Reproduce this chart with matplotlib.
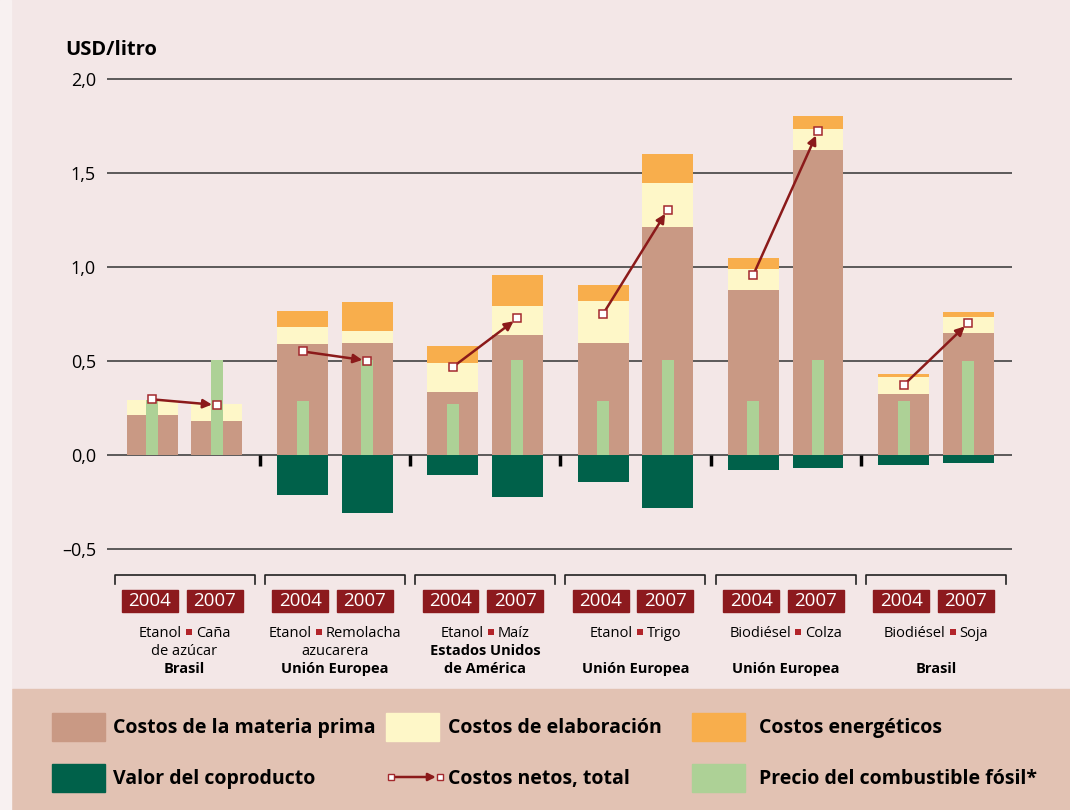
import numpy as np
import matplotlib.pyplot as plt
from matplotlib.patches import Rectangle, FancyArrowPatch
from matplotlib.lines import Line2D

plt.rcParams['font.family'] = ['Open Sans', 'DejaVu Sans']

# --- data (order: group 2004, group 2007, ...) ---
years = ['2004', '2007']
biofuel = ['Etanol', 'Etanol', 'Etanol', 'Etanol', 'Biodiésel', 'Biodiésel']
feedstock = ['Caña', 'Remolacha', 'Maíz', 'Trigo', 'Colza', 'Soja']
feedstock2 = ['de azúcar', 'azucarera', '', '', '', '']
region = ['Brasil', 'Unión Europea', 'Estados Unidos\nde América',
          'Unión Europea', 'Unión Europea', 'Brasil']

materia = [0.213, 0.181, 0.590, 0.596, 0.335, 0.638, 0.596, 1.213, 0.878, 1.622, 0.324, 0.649]
elaboracion = [0.080, 0.090, 0.091, 0.064, 0.154, 0.155, 0.223, 0.234, 0.111, 0.112, 0.091, 0.085]
energia = [0.0, 0.0, 0.085, 0.154, 0.091, 0.164, 0.085, 0.154, 0.059, 0.069, 0.016, 0.027]
coproducto = [0.0, 0.0, -0.213, -0.309, -0.106, -0.223, -0.142, -0.280, -0.078, -0.067, -0.052, -0.041]
fosil = [0.295, 0.505, 0.287, 0.505, 0.271, 0.505, 0.287, 0.505, 0.287, 0.505, 0.287, 0.500]
neto = [0.296, 0.266, 0.551, 0.502, 0.468, 0.727, 0.750, 1.305, 0.959, 1.723, 0.372, 0.702]

yticks = [-0.5, 0.0, 0.5, 1.0, 1.5, 2.0]
ytick_labels = ['–0,5', '0,0', '0,5', '1,0', '1,5', '2,0']

# colours
c_bg = '#f3e7e7'
c_leg = '#e2c2b3'
c_mat = '#c99984'
c_ela = '#fef7c8'
c_ene = '#f8ae4c'
c_cop = '#00614a'
c_fos = '#add196'
c_red = '#8c1a1e'
c_line = '#8b1a1a'

fig = plt.figure(figsize=(10.7, 8.1), dpi=100, facecolor=c_bg)
W, H = 1070, 810
ax = fig.add_axes([107 / W, 1 - 567.8 / H, 905 / W, 498.2 / H])
ax.set_facecolor('none')
ax.set_xlim(-0.516, 5.506)
ax.set_ylim(-0.6, 2.05)
for s in ax.spines.values():
    s.set_visible(False)

ngroups = len(region)
off = 0.215
bw = 0.339
xpos = []
for g in range(ngroups):
    xpos += [g - off, g + off]
xpos = np.array(xpos)

materia = np.array(materia)
elaboracion = np.array(elaboracion)
energia = np.array(energia)

# grid lines
for t in yticks:
    ax.axhline(t, color='#333333', lw=1.1, zorder=1)

ax.bar(xpos, materia, bw, color=c_mat, zorder=2)
ax.bar(xpos, elaboracion, bw, bottom=materia, color=c_ela, zorder=2)
ax.bar(xpos, energia, bw, bottom=materia + elaboracion, color=c_ene, zorder=2)
ax.bar(xpos, coproducto, bw, color=c_cop, zorder=2)
ax.bar(xpos, fosil, 0.08, color=c_fos, zorder=3)

# net costs with arrows
for g in range(ngroups):
    i, j = 2 * g, 2 * g + 1
    ax.annotate('', xy=(xpos[j], neto[j]), xytext=(xpos[i], neto[i]),
                arrowprops=dict(arrowstyle='-|>', color=c_line, lw=1.8,
                                mutation_scale=13, shrinkA=3, shrinkB=3.5),
                zorder=4)
ax.plot(xpos, neto, 's', ms=6, mfc='white', mec='#a3282d', mew=1.1, zorder=5)

ax.set_yticks(yticks)
ax.set_yticklabels(ytick_labels, fontsize=13)
ax.tick_params(axis='y', length=0, pad=8)
ax.set_xticks([])

# ticks between groups
for g in range(ngroups - 1):
    ax.plot([g + 0.5, g + 0.5], [0, -0.058], color='black', lw=2.5,
            solid_capstyle='butt', zorder=2)

# brackets, year boxes, labels
y_br, y_leg = -0.638, -0.686
for g in range(ngroups):
    ax.plot([g - 0.466, g - 0.466, g + 0.466, g + 0.466],
            [y_leg, y_br, y_br, y_leg], color='#222222', lw=1.2, clip_on=False)
    for k in range(2):
        x = g + (off if k else -off) - 0.015
        ax.add_patch(Rectangle((x - 0.186, -0.777 - 0.0585), 0.372, 0.117,
                               color=c_red, clip_on=False))
        ax.text(x, -0.777, years[k], color='white', fontsize=13.5,
                ha='center', va='center', clip_on=False)

# region / feedstock text
px_per_unit = ax.transData.transform((1, 0))[0] - ax.transData.transform((0, 0))[0]
fig.canvas.draw()
rend = fig.canvas.get_renderer()
y1, y2, y3 = -0.968, -1.064, -1.160
fs = 10.5
for g in range(ngroups):
    ta = ax.text(0, y1, biofuel[g], fontsize=fs, ha='left', va='baseline', clip_on=False)
    tb = ax.text(0, y1, feedstock[g], fontsize=fs, ha='left', va='baseline', clip_on=False)
    wa = ta.get_window_extent(rend).width
    wb = tb.get_window_extent(rend).width
    gap, sq = 4.0, 6.0
    total = wa + gap + sq + gap + wb
    x0 = g - total / 2 / px_per_unit
    ta.set_x(x0)
    xs = x0 + (wa + gap + sq / 2) / px_per_unit
    ax.plot([xs], [-0.941], 's', ms=4.3, color='#b2242a', mew=0, clip_on=False)
    tb.set_x(x0 + (wa + 2 * gap + sq) / px_per_unit)
    if feedstock2[g]:
        ax.text(g, y2, feedstock2[g], fontsize=fs, ha='center', va='baseline', clip_on=False)
    lines = region[g].split('\n')
    ys = [y3] if len(lines) == 1 else [y2, y3]
    for ln, yy in zip(lines, ys):
        ax.text(g, yy, ln, fontsize=fs, fontweight='bold', ha='center',
                va='baseline', clip_on=False)

fig.text(65 / W, 1 - 50 / H, 'USD/litro', fontsize=14.5, fontweight='bold', va='center')

# legend
fig.patches.append(Rectangle((12 / W, 0), 1 - 12 / W, 121 / H, color=c_leg,
                             transform=fig.transFigure, zorder=0))
fig.patches.append(Rectangle((0, 0), 11 / W, 1, color='#f8f1f1',
                             transform=fig.transFigure, zorder=0))


def fy(y):
    return 1 - y / H


leg = [
    (52, 713, c_mat, 'Costos de la materia prima', 113),
    (386, 713, c_ela, 'Costos de elaboración', 448),
    (692, 713, c_ene, 'Costos energéticos', 759),
    (52, 764, c_cop, 'Valor del coproducto', 113),
    (692, 764, c_fos, 'Precio del combustible fósil*', 759),
]
lfs = 14
for x, y, c, lab, tx in leg:
    fig.patches.append(Rectangle((x / W, fy(y + 28)), 53 / W, 28 / H, color=c,
                                 transform=fig.transFigure))
    fig.text(tx / W, fy(y + 20), lab, fontsize=lfs, fontweight='bold', va='baseline')

fig.add_artist(FancyArrowPatch((391 / W, fy(777)), (440 / W, fy(777)),
                               transform=fig.transFigure, arrowstyle='-|>',
                               color=c_line, lw=1.8, mutation_scale=11,
                               shrinkA=3, shrinkB=3))
fig.add_artist(Line2D([391 / W, 440 / W], [fy(777), fy(777)], transform=fig.transFigure,
                      marker='s', ms=5, mfc='white', mec='#a3282d', mew=1.0, ls='none'))
fig.text(448 / W, fy(784), 'Costos netos, total', fontsize=lfs, fontweight='bold',
         va='baseline')

fig.savefig('out.png', dpi=100, facecolor=c_bg)
